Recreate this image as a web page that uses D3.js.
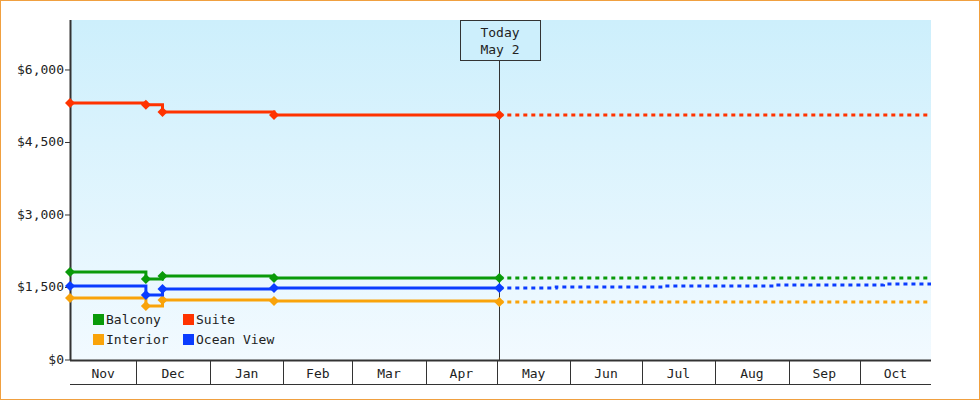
<!DOCTYPE html>
<html><head><meta charset="utf-8">
<script src="https://cdn.jsdelivr.net/npm/d3@7"></script>
<style>
body{margin:0;background:#fff;}
svg{display:block;font-family:"DejaVu Sans Mono",monospace;}
</style></head>
<body><svg id="chart" width="980" height="400"></svg>
<script>
var parse = d3.timeParse("%Y-%m-%d");
var dates = ["2023-11-03","2023-12-05","2023-12-12","2024-01-28","2024-05-02"];
var futureDates = ["2024-05-02","2024-05-26","2024-07-10","2024-08-26","2024-10-11","2024-10-31"];
var balcony = [1820,1676,1738,1697,1697];
var suite = [5317,5280,5130,5070,5070];
var interior = [1283,1117,1241,1220,1200];
var oceanView = [1531,1345,1469,1490,1490];
var oceanFuture = [1490,1510,1530,1550,1570,1570];
var yTicks = [0,1500,3000,4500,6000];
var months = ["Nov","Dec","Jan","Feb","Mar","Apr","May","Jun","Jul","Aug","Sep","Oct"];

var series = [
  {name:"Balcony", color:"#0a9a0a", vals:balcony},
  {name:"Suite", color:"#ff3300", vals:suite},
  {name:"Interior", color:"#f9a30a", vals:interior},
  {name:"Ocean View", color:"#0a3cff", vals:oceanView}
];

var svg = d3.select("#chart");
var x = d3.scaleTime().domain([parse("2023-11-03"), parse("2024-10-31")]).range([70,931]);
var y = d3.scaleLinear().domain([0,7034]).range([360,20]);
var today = parse("2024-05-02");

var defs = svg.append("defs");
var g = defs.append("linearGradient").attr("id","bg").attr("x1",0).attr("x2",0).attr("y1",0).attr("y2",1);
g.append("stop").attr("offset","0%").attr("stop-color","#cdeffc");
g.append("stop").attr("offset","100%").attr("stop-color","#f2faff");

svg.append("rect").attr("x",0.5).attr("y",0.5).attr("width",979).attr("height",399)
  .attr("fill","#fff").attr("stroke","#f0a040");
svg.append("rect").attr("x",70).attr("y",20).attr("width",861).attr("height",340).attr("fill","url(#bg)");

// y axis
svg.append("line").attr("x1",70.5).attr("x2",70.5).attr("y1",20).attr("y2",360).attr("stroke","#333").attr("stroke-width",2);
yTicks.forEach(function(t){
  svg.append("line").attr("x1",65).attr("x2",70).attr("y1",y(t)).attr("y2",y(t)).attr("stroke","#333");
  svg.append("text").attr("x",64).attr("y",y(t)+4).attr("text-anchor","end").attr("font-size",13).attr("fill","#222")
    .text("$" + d3.format(",")(t));
});

// x month boxes
svg.append("line").attr("x1",70).attr("x2",931).attr("y1",360.5).attr("y2",360.5).attr("stroke","#333").attr("stroke-width",2);
svg.append("line").attr("x1",70).attr("x2",931).attr("y1",384.5).attr("y2",384.5).attr("stroke","#333");
months.forEach(function(m,i){
  var s = d3.timeMonth.offset(parse("2023-11-01"), i), e = d3.timeMonth.offset(s,1);
  var a = Math.max(70, x(s)), b = Math.min(931, x(e));
  if (i > 0) svg.append("line").attr("x1",Math.round(a)+0.5).attr("x2",Math.round(a)+0.5).attr("y1",360).attr("y2",384).attr("stroke","#333");
  svg.append("text").attr("x",(a+b)/2).attr("y",378).attr("text-anchor","middle").attr("font-size",13).attr("fill","#222").text(m);
});

// today marker
var tx = Math.round(x(today)) + 0.5;
svg.append("line").attr("x1",tx).attr("x2",tx).attr("y1",61).attr("y2",360).attr("stroke","#333");
svg.append("rect").attr("x",460.5).attr("y",20.5).attr("width",80).attr("height",40).attr("fill","#cdeffc").attr("stroke","#333");
svg.append("text").attr("x",500).attr("y",37).attr("text-anchor","middle").attr("font-size",13).attr("fill","#222").text("Today");
svg.append("text").attr("x",500).attr("y",54).attr("text-anchor","middle").attr("font-size",13).attr("fill","#222").text("May 2");

var line = d3.line().curve(d3.curveStepAfter).x(function(d){return x(d[0]);}).y(function(d){return y(d[1]);});
var fd = futureDates.map(parse);

series.forEach(function(s){
  var pts = dates.map(function(d,i){return [parse(d), s.vals[i]];});
  var last = s.vals[s.vals.length-1];
  var fut = s.name === "Ocean View" ? fd.map(function(d,i){return [d, oceanFuture[i]];}) : fd.map(function(d){return [d,last];});
  svg.append("path").attr("d",line(fut)).attr("fill","none").attr("stroke",s.color).attr("stroke-width",3).attr("stroke-dasharray","4,4");
  svg.append("path").attr("d",line(pts)).attr("fill","none").attr("stroke",s.color).attr("stroke-width",3);
  svg.selectAll(null).data(pts).enter().append("path")
    .attr("transform",function(d){return "translate(" + x(d[0]) + "," + y(d[1]) + ") rotate(45)";})
    .attr("d",d3.symbol(d3.symbolSquare,50)).attr("fill",s.color);
});

// legend
series.forEach(function(s,i){
  var lx = 93 + (i % 2) * 90, ly = 314 + Math.floor(i/2) * 20;
  svg.append("rect").attr("x",lx).attr("y",ly).attr("width",11).attr("height",11).attr("fill",s.color);
  svg.append("text").attr("x",lx+13).attr("y",ly+10).attr("font-size",13).attr("fill","#222").text(s.name);
});
</script></body></html>
